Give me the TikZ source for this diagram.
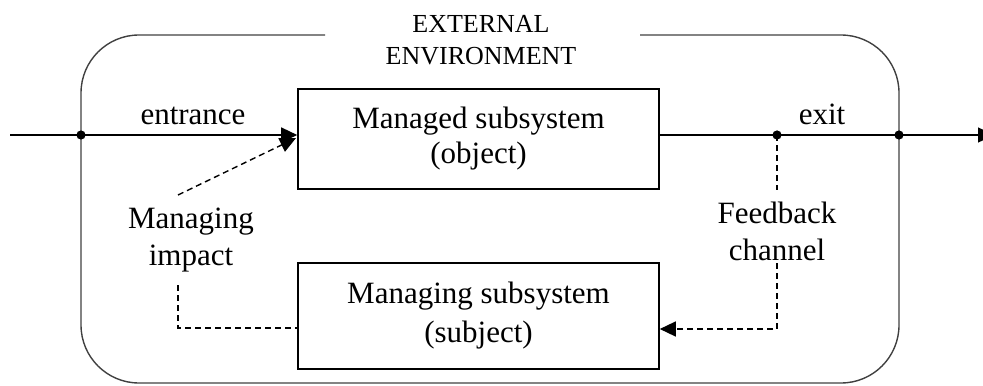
\documentclass[tikz,border=0pt]{standalone}
\usepackage{fontspec}
\setmainfont{Liberation Serif}
\usetikzlibrary{arrows.meta}
\begin{document}
\begin{tikzpicture}[x=0.5pt,y=-0.5pt,
  line width=0.7pt,
  txt/.style={font=\fontsize{15.5}{18.5}\selectfont, inner sep=0pt, align=center},
  sysbox/.style={draw, line width=0.8pt, minimum width=180.5pt, align=center, inner sep=0pt},
  env/.style={draw=black!75, line width=0.7pt, rounded corners=29pt},
  dot/.style={circle, fill=black, inner sep=0pt, minimum size=4.6pt},
  tip/.style={-{Triangle[length=8pt,width=7.5pt]}},
  dashline/.style={dash pattern=on 3pt off 2pt}
]
\useasboundingbox (0,0) rectangle (983,385);
% external environment
\draw[env] (325,35) -- (81,35) -- (81,383) -- (899,383) -- (899,35) -- (640,35);
\node[txt, font=\fontsize{13}{16}\selectfont] (extenv) at (481,40.5) {EXTERNAL\\ENVIRONMENT};
% boxes
\node[sysbox, minimum height=50pt, font=\fontsize{15.5}{17.5}\selectfont] (obj) at (478.5,139) {Managed subsystem\\(object)};
\node[sysbox, minimum height=53pt, font=\fontsize{15.5}{19.5}\selectfont] (subj) at (478.5,316) {Managing subsystem\\(subject)};
% points
\coordinate (start) at (10,135);
\coordinate (end) at (994,135);
\node[dot] (in) at (81,135) {};
\node[dot] (fb) at (777,135) {};
\node[dot] (out) at (899,135) {};
% main line
\draw[tip] (start) -- (in.center) -- (obj.west |- in);
\draw[tip] (obj.east |- fb) -- (fb.center) -- (out.center) -- (end);
\node[txt, anchor=base] (entr) at (193,124) {entrance};
\node[txt, anchor=base] (exitl) at (822,124) {exit};
% managing impact
\node[txt] (impact) at (191,240) {Managing\\impact};
\coordinate (mi1) at (178,195);
\coordinate (mi2) at (296,138);
\coordinate (mi3) at (178,285);
\draw[tip, dashline] (mi1) -- (mi2);
\draw[dashline] (mi3) |- (subj.west |- 0,328);
% feedback
\node[txt] (feedb) at (777,231) {Feedback\\channel};
\coordinate (fb1) at (777,190);
\coordinate (fb2) at (777,263);
\draw[dashline] (fb.center) -- (fb1);
\draw[tip, dashline] (fb2) |- (subj.east |- 0,329);
\end{tikzpicture}
\end{document}
